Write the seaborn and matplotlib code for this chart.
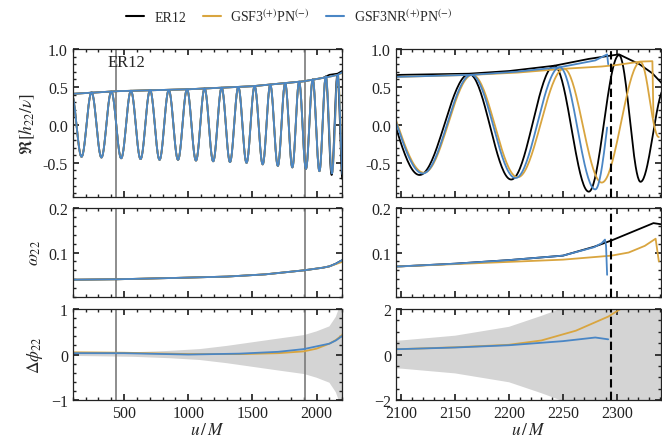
import numpy as np
import pandas as pd
import seaborn as sns
import matplotlib
matplotlib.use("Agg")
import matplotlib.pyplot as plt
from matplotlib.ticker import MultipleLocator, FixedLocator

# ---------------------------------------------------------------------------
# Re[h22/nu]: turning points (u/M, value) shared by all models in the inspiral
insp_u = [90, 168, 246, 323, 400, 477, 553, 628, 702, 776, 848, 920, 990, 1060,
          1127, 1194, 1260, 1325, 1390, 1454, 1517, 1580, 1639, 1698, 1755, 1811,
          1864, 1917, 1970, 2022, 2072]
insp_h = [0.41, -0.42, 0.43, -0.43, 0.44, -0.44, 0.45, -0.45, 0.46, -0.46, 0.46,
          -0.46, 0.47, -0.47, 0.48, -0.48, 0.49, -0.49, 0.50, -0.50, 0.51, -0.52,
          0.53, -0.54, 0.55, -0.56, 0.57, -0.58, 0.60, -0.61, 0.64]

# late turning points per model
er12_tail_u = [2117, 2163, 2202, 2242, 2274, 2302, 2322, 2345]
er12_tail_h = [-0.66, 0.67, -0.72, 0.78, -0.88, 0.92, -0.75, 0.50]
nr_tail_u = [2120, 2165, 2206, 2247, 2280, 2303]
nr_tail_h = [-0.64, 0.66, -0.70, 0.76, -0.85, 0.90]
nr_end = 2291
gsf_tail_u = [2121, 2166, 2208, 2251, 2286, 2322, 2339]
gsf_tail_h = [-0.63, 0.66, -0.69, 0.74, -0.76, 0.83, -0.16]

# amplitude |h22/nu|
amp_u = [100, 450, 1000, 1500, 1900, 2050]
amp = [0.41, 0.445, 0.47, 0.51, 0.575, 0.62]
er12_amp_u = [2100, 2163, 2200, 2242, 2274, 2302, 2321, 2333, 2345]
er12_amp = [0.66, 0.675, 0.71, 0.78, 0.87, 0.93, 0.80, 0.68, 0.50]
nr_amp_u = [2100, 2165, 2206, 2247, 2280, 2291, 2292]
nr_amp = [0.635, 0.66, 0.70, 0.76, 0.85, 0.93, 0.80]
gsf_amp_u = [2100, 2166, 2208, 2251, 2286, 2300, 2322, 2333, 2334]
gsf_amp = [0.635, 0.66, 0.69, 0.74, 0.77, 0.79, 0.835, 0.84, 0.10]

# frequency omega_22
om_u = [100, 450, 900, 1300, 1600, 1900, 2050]
om = [0.039, 0.040, 0.043, 0.046, 0.051, 0.060, 0.066]
er12_om_u = [2100, 2150, 2200, 2250, 2279, 2295, 2311, 2326, 2334, 2345]
er12_om = [0.069, 0.075, 0.083, 0.093, 0.113, 0.127, 0.143, 0.158, 0.166, 0.162]
nr_om_u = [2100, 2150, 2200, 2250, 2279, 2286, 2289, 2290, 2291]
nr_om = [0.069, 0.075, 0.083, 0.093, 0.112, 0.121, 0.129, 0.115, 0.050]
gsf_om_u = [2100, 2150, 2200, 2250, 2295, 2311, 2326, 2336, 2339]
gsf_om = [0.069, 0.074, 0.079, 0.084, 0.093, 0.100, 0.115, 0.131, 0.080]

# phase difference to ER12
dphi_u = [100, 500, 1000, 1400, 1700, 1900, 2000]
nr_dphi = [0.03, 0.03, 0.00, 0.02, 0.06, 0.12, 0.18]
gsf_dphi = [0.05, 0.04, 0.01, 0.01, 0.03, 0.07, 0.13]
nr_dphi_tail_u = [2100, 2150, 2200, 2250, 2280, 2292]
nr_dphi_tail = [0.24, 0.31, 0.41, 0.59, 0.75, 0.67]
gsf_dphi_tail_u = [2100, 2150, 2200, 2230, 2262, 2292, 2310]
gsf_dphi_tail = [0.24, 0.32, 0.43, 0.62, 1.05, 1.67, 2.2]

# ER12 phase uncertainty (half width)
band_u = [100, 570, 850, 1090, 1300, 1500, 1700, 1905, 2000, 2100, 2150, 2200,
          2230, 2250, 2280, 2345]
band_w = [0.03, 0.05, 0.08, 0.12, 0.19, 0.27, 0.35, 0.43, 0.51, 0.62, 0.83, 1.22,
          1.70, 2.05, 3.0, 5.0]

ref_lines = [440, 1910]
merger_u = 2295

labels = ["ER12", "GSF3$^{(+)}$PN$^{(-)}$", "GSF3NR$^{(+)}$PN$^{(-)}$"]
colors = ["black", "#d9a53f", "#4a86c5"]


def oscillation(tu, th, n=40, end=None):
    """Smooth curve passing through alternating turning points."""
    us, hs = [], []
    t = np.linspace(0.0, 1.0, n, endpoint=False)
    for (u0, h0), (u1, h1) in zip(zip(tu[:-1], th[:-1]), zip(tu[1:], th[1:])):
        us.append(u0 + (u1 - u0) * t)
        hs.append(0.5 * (h0 + h1) + 0.5 * (h0 - h1) * np.cos(np.pi * t))
    us.append([tu[-1]])
    hs.append([th[-1]])
    u = np.concatenate(us)
    h = np.concatenate(hs)
    if end is not None:
        keep = u <= end
        u_end = np.interp(end, u, h)
        u, h = np.append(u[keep], end), np.append(h[keep], u_end)
    return u, h


models = {
    "ER12": dict(
        wave=oscillation(insp_u + er12_tail_u, insp_h + er12_tail_h),
        amp=(amp_u + er12_amp_u, amp + er12_amp),
        om=(om_u + er12_om_u, om + er12_om),
        dphi=None),
    "GSF": dict(
        wave=oscillation(insp_u + gsf_tail_u, insp_h + gsf_tail_h),
        amp=(amp_u + gsf_amp_u, amp + gsf_amp),
        om=(om_u + gsf_om_u, om + gsf_om),
        dphi=(dphi_u + gsf_dphi_tail_u, gsf_dphi + gsf_dphi_tail)),
    "NR": dict(
        wave=oscillation(insp_u + nr_tail_u, insp_h + nr_tail_h, end=nr_end),
        amp=(amp_u + nr_amp_u, amp + nr_amp),
        om=(om_u + nr_om_u, om + nr_om),
        dphi=(dphi_u + nr_dphi_tail_u, nr_dphi + nr_dphi_tail)),
}

sns.set_theme(style="ticks")
plt.rcParams.update({
    "font.family": ["Liberation Serif", "DejaVu Serif"],
    "mathtext.fontset": "stix",
    "font.size": 11,
    "axes.linewidth": 0.9,
    "axes.edgecolor": "#222222",
    "xtick.direction": "in",
    "ytick.direction": "in",
    "xtick.top": True,
    "ytick.right": True,
    "xtick.major.size": 4,
    "ytick.major.size": 4,
    "xtick.minor.size": 2,
    "ytick.minor.size": 2,
    "xtick.minor.visible": True,
    "ytick.minor.visible": True,
    "xtick.labelsize": 11.5,
    "ytick.labelsize": 11.5,
    "xtick.color": "#222222",
    "ytick.color": "#222222",
})

fig = plt.figure(figsize=(6.62, 4.39), dpi=100)
cols = [(0.110, 0.407), (0.598, 0.4005)]
rows = [(0.549, 0.337), (0.321, 0.203), (0.0866, 0.207)]
axes = [[fig.add_axes([c[0], r[0], c[1], r[1]]) for c in cols] for r in rows]

xlims = [(100, 2200), (2095, 2341)]
lw = 1.3


def line(ax, u, y, color, **kw):
    sns.lineplot(x=np.asarray(u, float), y=np.asarray(y, float), ax=ax,
                 color=color, lw=kw.pop("lw", lw), estimator=None, sort=False,
                 legend=False, **kw)


order = [("ER12", colors[0]), ("GSF", colors[1]), ("NR", colors[2])]
for j in range(2):
    ax_h, ax_w, ax_p = axes[0][j], axes[1][j], axes[2][j]
    # band of phase uncertainty
    bu = np.asarray(band_u, float)
    bw = np.asarray(band_w, float)
    ax_p.fill_between(bu, -bw, bw, color="#d4d4d4", lw=0, zorder=0)
    for key, col in order:
        m = models[key]
        line(ax_h, *m["wave"], col)
        line(ax_h, *m["amp"], col)
        line(ax_w, *m["om"], col)
        if m["dphi"] is not None:
            line(ax_p, *m["dphi"], col)
    for ax in (ax_h, ax_w, ax_p):
        ax.set_xlim(*xlims[j])
        ax.set_xlabel("")
        ax.set_ylabel("")
        if j == 0:
            for x0 in ref_lines:
                ax.axvline(x0, color="#7a7a7a", lw=1.2, zorder=1)
        else:
            ax.axvline(merger_u, color="black", lw=1.5, ls=(0, (4, 2)), zorder=5)
    for ax in (ax_h, ax_w):
        ax.tick_params(labelbottom=False)

    ax_h.set_ylim(-0.95, 1.0)
    ax_h.yaxis.set_major_locator(FixedLocator([-0.5, 0.0, 0.5, 1.0]))
    ax_h.yaxis.set_minor_locator(MultipleLocator(0.1))
    ax_w.set_ylim(0.0, 0.2)
    ax_w.yaxis.set_major_locator(FixedLocator([0.1, 0.2]))
    ax_w.yaxis.set_minor_locator(MultipleLocator(0.02))
    ax_h.yaxis.set_major_formatter(matplotlib.ticker.FormatStrFormatter("%.1f"))
    ax_w.yaxis.set_major_formatter(matplotlib.ticker.FormatStrFormatter("%.1f"))
    if j == 0:
        ax_p.set_ylim(-1, 1)
        ax_p.yaxis.set_major_locator(FixedLocator([-1, 0, 1]))
        ax_p.yaxis.set_minor_locator(MultipleLocator(0.2))
        for ax in (ax_h, ax_w, ax_p):
            ax.xaxis.set_major_locator(FixedLocator([500, 1000, 1500, 2000]))
            ax.xaxis.set_minor_locator(MultipleLocator(100))
    else:
        ax_p.set_ylim(-2, 2)
        ax_p.yaxis.set_major_locator(FixedLocator([-2, 0, 2]))
        ax_p.yaxis.set_minor_locator(MultipleLocator(0.5))
        for ax in (ax_h, ax_w, ax_p):
            ax.xaxis.set_major_locator(FixedLocator([2100, 2150, 2200, 2250, 2300]))
            ax.xaxis.set_minor_locator(MultipleLocator(10))
    ax_p.set_xlabel(r"$u\,/\,M$", fontsize=12.5, labelpad=1)

axes[0][0].set_ylabel(r"$\Re[h_{22}/\nu]$", fontsize=12.5)
axes[1][0].set_ylabel(r"$\omega_{22}$", fontsize=12.5)
axes[2][0].set_ylabel(r"$\Delta\phi_{22}$", fontsize=12.5)
axes[0][0].text(520, 0.83, "ER12", ha="center", va="center", fontsize=12)

handles = [matplotlib.lines.Line2D([], [], color=c, lw=1.5) for c in colors]
fig.legend(handles, labels, loc="center", bbox_to_anchor=(0.437, 0.962), ncol=3,
           frameon=False, fontsize=10, handlelength=1.3, columnspacing=1.2,
           handletextpad=0.7)

fig.savefig("out.png", dpi=100)
